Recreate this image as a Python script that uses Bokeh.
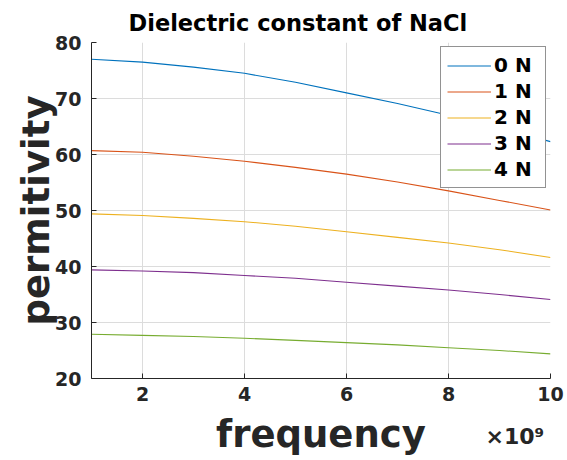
from bokeh.plotting import figure
from bokeh.models import (FixedTicker, CustomJSTickFormatter, Range1d, Legend,
                          LegendItem, LinearAxis)
from bokeh.embed import file_html
from bokeh.resources import INLINE

# ---- data ----
freq = [1e9, 2e9, 3e9, 4e9, 5e9, 6e9, 7e9, 8e9, 9e9, 10e9]
eps_0N = [77.0, 76.5, 75.6, 74.5, 72.9, 71.0, 69.1, 67.0, 64.7, 62.3]
eps_1N = [60.7, 60.4, 59.7, 58.8, 57.7, 56.5, 55.1, 53.5, 51.8, 50.1]
eps_2N = [49.4, 49.1, 48.6, 48.0, 47.2, 46.2, 45.2, 44.2, 43.0, 41.6]
eps_3N = [39.4, 39.2, 38.9, 38.4, 37.9, 37.2, 36.5, 35.8, 35.0, 34.1]
eps_4N = [27.9, 27.7, 27.5, 27.2, 26.8, 26.4, 26.0, 25.5, 25.0, 24.4]
series_names = ["0 N", "1 N", "2 N", "3 N", "4 N"]
x_ticks = [2e9, 4e9, 6e9, 8e9, 10e9]
y_ticks = [20, 30, 40, 50, 60, 70, 80]
multiplier_text = "\u00d710\u2079"
multiplier_anchor = [9.3e9]

colors = ["#0072BD", "#D95319", "#EDB120", "#7E2F8E", "#77AC30"]
FONT = "DejaVu Sans"
DARK = "#262626"

p = figure(width=567, height=460, output_backend="svg", toolbar_location=None,
           x_range=Range1d(1e9, 10e9), y_range=Range1d(20, 80),
           min_border_left=91, min_border_right=17, min_border_top=42,
           min_border_bottom=82, title="Dielectric constant of NaCl")
p.outline_line_color = None
p.background_fill_color = "white"
p.border_fill_color = "white"

p.title.text_font = FONT
p.title.text_font_size = "22.5px"
p.title.text_font_style = "bold"
p.title.text_color = "black"
p.title.align = "left"
p.title.offset = 37
p.title.standoff = 14

for ax in (p.xaxis[0], p.yaxis[0]):
    ax.axis_line_color = DARK
    ax.axis_line_width = 1
    ax.major_tick_line_color = DARK
    ax.major_tick_in = 5
    ax.major_tick_out = 0
    ax.minor_tick_line_color = None
    ax.major_label_text_font = FONT
    ax.major_label_text_font_size = "19px"
    ax.major_label_text_font_style = "bold"
    ax.major_label_text_color = DARK
    ax.axis_label_text_font = FONT
    ax.axis_label_text_font_size = "37px"
    ax.axis_label_text_font_style = "bold"
    ax.axis_label_text_color = DARK

p.xaxis.ticker = FixedTicker(ticks=x_ticks)
p.xaxis.formatter = CustomJSTickFormatter(code="return (tick/1e9).toFixed(0);")
p.xaxis.major_label_standoff = 8

p.yaxis.ticker = FixedTicker(ticks=y_ticks)
p.yaxis.axis_label = "permitivity"
p.yaxis.major_label_standoff = 10
p.yaxis.axis_label_standoff = -6

# second bottom axis: carries the "x10^9" multiplier and the axis title
ax2 = LinearAxis(ticker=FixedTicker(ticks=multiplier_anchor),
                 formatter=CustomJSTickFormatter(code="return '%s';" % multiplier_text),
                 axis_line_color=None, major_tick_line_color=None,
                 minor_tick_line_color=None, major_tick_in=0, major_tick_out=0,
                 major_label_standoff=20,
                 major_label_text_font=FONT, major_label_text_font_size="22px",
                 major_label_text_font_style="bold", major_label_text_color=DARK,
                 axis_label="frequency", axis_label_standoff=-39,
                 axis_label_text_font=FONT, axis_label_text_font_size="37px",
                 axis_label_text_font_style="bold", axis_label_text_color=DARK)
p.add_layout(ax2, "below")

p.xgrid.ticker = FixedTicker(ticks=x_ticks)
p.ygrid.ticker = FixedTicker(ticks=y_ticks)
for g in (p.xgrid[0], p.ygrid[0]):
    g.grid_line_color = "#dcdcdc"
    g.grid_line_width = 1

series = [eps_0N, eps_1N, eps_2N, eps_3N, eps_4N]
items = []
for name, ys, c in zip(series_names, series, colors):
    r = p.line(freq, ys, line_color=c, line_width=1.1)
    items.append(LegendItem(label=name, renderers=[r]))

legend = Legend(items=items, location="top_right")
legend.margin = 4
legend.padding = 6
legend.spacing = 2
legend.glyph_width = 44
legend.glyph_height = 21
legend.label_height = 21
legend.label_width = 45
legend.label_standoff = 3
legend.label_text_font = FONT
legend.label_text_font_size = "20px"
legend.label_text_font_style = "bold"
legend.label_text_color = "black"
legend.border_line_color = DARK
legend.border_line_width = 1
legend.background_fill_color = "white"
legend.background_fill_alpha = 1
p.add_layout(legend)

open("out.html", "w").write(file_html(p, INLINE))
